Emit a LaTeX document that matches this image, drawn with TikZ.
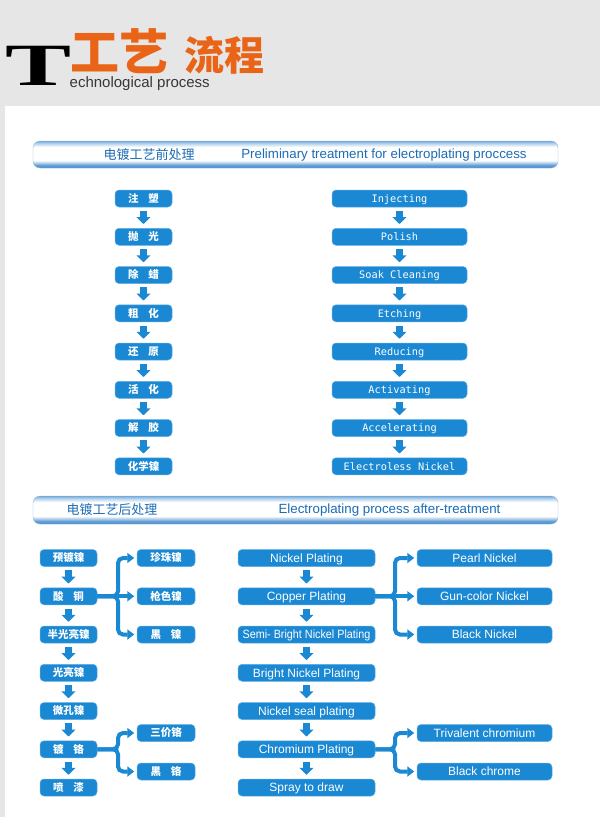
\documentclass[tikz,border=0pt]{standalone}
\usepackage{fontspec}
\setmainfont{Liberation Sans}
\newfontfamily\monof{DejaVu Sans Mono}
\newfontfamily\cjkf{Noto Sans CJK SC}
\newfontfamily\seriff{Liberation Serif}
\usetikzlibrary{arrows.meta,calc}
\definecolor{boxblue}{RGB}{26,136,210}
\definecolor{boxedge}{RGB}{95,172,226}
\definecolor{bggray}{RGB}{230,230,230}
\definecolor{orangeh}{RGB}{233,100,22}
\definecolor{bartext}{RGB}{28,108,180}
\definecolor{barblue}{RGB}{70,140,205}
\definecolor{barlight}{RGB}{175,208,236}
\definecolor{headgray}{RGB}{55,55,55}
\pgfdeclareverticalshading{barshade}{100bp}{color(0bp)=(barblue); color(25bp)=(barblue); color(30bp)=(barblue!85!white); color(39bp)=(white); color(64bp)=(white); color(71bp)=(barlight); color(75bp)=(barblue!75!white); color(100bp)=(barblue!75!white)}
\tikzset{
  bx/.style={rectangle, rounded corners=4pt, fill=boxblue, draw=boxedge, line width=0.5pt, text=white, inner sep=0pt, minimum height=17pt},
  cn/.style={bx, font=\cjkf\bfseries\fontsize{10.5}{12}\selectfont, text height=8.6pt, text depth=0.9pt},
  mn/.style={bx, font=\monof\fontsize{10.3}{12}\selectfont, text height=7.5pt, text depth=0pt},
  en/.style={bx, font=\fontsize{12}{14}\selectfont, text height=8.6pt, text depth=0pt},
  down/.style={draw=boxblue, line width=7pt, -{Triangle[width=14pt,length=7pt]}, shorten <=3.5pt, shorten >=4pt},
  branch/.style={draw=boxblue, line width=4pt, rounded corners=5pt, -{Triangle[width=10pt,length=7pt]}, shorten >=2.5pt},
  bartitle/.style={rectangle, rounded corners=7pt, shading=barshade, draw=barblue!60!white, line width=0.4pt},
  barcn/.style={text=bartext, inner sep=0pt, font=\cjkf\fontsize{13}{14}\selectfont},
  baren/.style={text=bartext, inner sep=0pt, font=\fontsize{13.3}{15}\selectfont},
}
\begin{document}
\begin{tikzpicture}[x=1pt,y=-1pt]
\useasboundingbox (0,0) rectangle (600,817);
\fill[bggray] (0,0) rectangle (600,817);
\fill[white] (5,106) rectangle (600,817);

% header
\node[anchor=base, inner sep=0pt, font=\seriff\bfseries\fontsize{60}{60}\selectfont, text=black] (bigT) at (39,85.5) {\scalebox{1.65}[1]{T}};
\node[inner sep=0pt, font=\cjkf\bfseries\fontsize{49}{49}\selectfont, text=orangeh] (gy) at (119.5,51.5) {工艺};
\node[inner sep=0pt, font=\cjkf\bfseries\fontsize{40}{40}\selectfont, text=orangeh] (lc) at (224,55.5) {流程};
\node[anchor=base west, inner sep=0pt, font=\fontsize{15}{16}\selectfont, text=headgray] (tp) at (69.5,87) {echnological process};

% section bars
\path[bartitle] (33,141) rectangle (558,168);
\node[barcn] (t1c) at (149,155) {电镀工艺前处理};
\node[baren] (t1e) at (384,155) {Preliminary treatment for electroplating proccess};
\path[bartitle] (33,496) rectangle (558,524);
\node[barcn] (t2c) at (112,510) {电镀工艺后处理};
\node[baren] (t2e) at (389.5,510) {Electroplating process after-treatment};

% upper left column
\foreach \i/\t in {1/注\hspace{0.95em}塑,2/抛\hspace{0.95em}光,3/除\hspace{0.95em}蜡,4/粗\hspace{0.95em}化,5/还\hspace{0.95em}原,6/活\hspace{0.95em}化,7/解\hspace{0.95em}胶,8/化学镍}
  \node[cn, minimum width=57pt] (L\i) at (143.5,{198.5+38.25*(\i-1)}) {\t};
% upper right column
\foreach \i/\t in {1/Injecting,2/Polish,3/Soak Cleaning,4/Etching,5/Reducing,6/Activating,7/Accelerating,8/Electroless Nickel}
  \node[mn, minimum width=135pt] (R\i) at (399.5,{198.5+38.25*(\i-1)}) {\t};
\foreach \i [evaluate=\i as \j using int(\i+1)] in {1,...,7} {
  \draw[down] (L\i.south) -- (L\j.north);
  \draw[down] (R\i.south) -- (R\j.north);
}

% lower left column
\foreach \i/\t in {1/预镀镍,2/酸\hspace{0.95em}铜,3/半光亮镍,4/光亮镍,5/微孔镍,6/镀\hspace{0.95em}铬,7/喷\hspace{0.95em}漆}
  \node[cn, minimum width=57pt] (P\i) at (68.5,{558+38.25*(\i-1)}) {\t};
\node[cn, minimum width=58pt] (Q1) at (166,558) {珍珠镍};
\node[cn, minimum width=58pt] (Q2) at (166,596.25) {枪色镍};
\node[cn, minimum width=58pt] (Q3) at (166,634.5) {黑\hspace{0.95em}镍};
\node[cn, minimum width=58pt] (Q4) at (166,733) {三价铬};
\node[cn, minimum width=58pt] (Q5) at (166,771.5) {黑\hspace{0.95em}铬};

% lower right column
\foreach \i/\t in {1/Nickel Plating,2/Copper Plating,3/{\scalebox{0.9}[1]{Semi- Bright Nickel Plating}},4/Bright Nickel Plating,5/Nickel seal plating,6/Chromium Plating,7/Spray to draw}
  \node[en, minimum width=137pt] (S\i) at (306.5,{558+38.25*(\i-1)}) {\t};
\node[en, minimum width=135pt] (T1) at (484.5,558) {Pearl Nickel};
\node[en, minimum width=135pt] (T2) at (484.5,596.25) {Gun-color Nickel};
\node[en, minimum width=135pt] (T3) at (484.5,634.5) {Black Nickel};
\node[en, minimum width=135pt] (T4) at (484.5,733) {Trivalent chromium};
\node[en, minimum width=135pt] (T5) at (484.5,771.5) {Black chrome};

\foreach \i [evaluate=\i as \j using int(\i+1)] in {1,...,6} {
  \draw[down] (P\i.south) -- (P\j.north);
  \draw[down] (S\i.south) -- (S\j.north);
}

% branches
\coordinate (bA) at (118,596.25);
\coordinate (bB) at (118,749.25);
\coordinate (bC) at (395,596.25);
\coordinate (bD) at (395,749.25);
\draw[branch] (P2.east) -- (bA) |- (Q1.west);
\draw[branch] (P2.east) -- (Q2.west);
\draw[branch] (P2.east) -- (bA) |- (Q3.west);
\draw[branch] (P6.east) -- (bB) |- (Q4.west);
\draw[branch] (P6.east) -- (bB) |- (Q5.west);
\draw[branch] (S2.east) -- (bC) |- (T1.west);
\draw[branch] (S2.east) -- (T2.west);
\draw[branch] (S2.east) -- (bC) |- (T3.west);
\draw[branch] (S6.east) -- (bD) |- (T4.west);
\draw[branch] (S6.east) -- (bD) |- (T5.west);
\end{tikzpicture}
\end{document}
